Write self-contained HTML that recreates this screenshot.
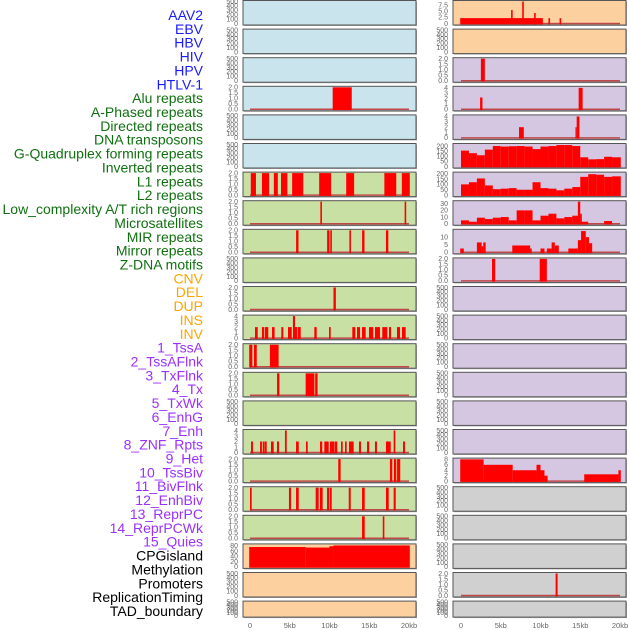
<!DOCTYPE html>
<html><head><meta charset="utf-8"><style>
html,body{margin:0;padding:0;background:#fff;}
svg{display:block;font-family:"Liberation Sans",sans-serif;}
</style></head><body>
<svg id="chart" width="630" height="630" viewBox="0 0 630 630"></svg>
<script>
// ---- data ----
const labels = ["AAV2","EBV","HBV","HIV","HPV","HTLV-1","Alu repeats","A-Phased repeats","Directed repeats","DNA transposons","G-Quadruplex forming repeats","Inverted repeats","L1 repeats","L2 repeats","Low_complexity A/T rich regions","Microsatellites","MIR repeats","Mirror repeats","Z-DNA motifs","CNV","DEL","DUP","INS","INV","1_TssA","2_TssAFlnk","3_TxFlnk","4_Tx","5_TxWk","6_EnhG","7_Enh","8_ZNF_Rpts","9_Het","10_TssBiv","11_BivFlnk","12_EnhBiv","13_ReprPC","14_ReprPCWk","15_Quies","CPGisland","Methylation","Promoters","ReplicationTiming","TAD_boundary"];
const labelColors = ["#1a1aff","#1a1aff","#1a1aff","#1a1aff","#1a1aff","#1a1aff","#107010","#107010","#107010","#107010","#107010","#107010","#107010","#107010","#107010","#107010","#107010","#107010","#107010","#ffa500","#ffa500","#ffa500","#ffa500","#ffa500","#9b30ff","#9b30ff","#9b30ff","#9b30ff","#9b30ff","#9b30ff","#9b30ff","#9b30ff","#9b30ff","#9b30ff","#9b30ff","#9b30ff","#9b30ff","#9b30ff","#9b30ff","#000","#000","#000","#000","#000"];
const xTicks = [0,5,10,15,20];
const xTickLabels = ["0","5kb","10kb","15kb","20kb"];
const leftBg = ["#c9e4ec","#c9e4ec","#c9e4ec","#c9e4ec","#c9e4ec","#c9e4ec","#c8e0a4","#c8e0a4","#c8e0a4","#c8e0a4","#c8e0a4","#c8e0a4","#c8e0a4","#c8e0a4","#c8e0a4","#c8e0a4","#c8e0a4","#c8e0a4","#c8e0a4","#fdd09f","#fdd09f","#fdd09f"];
const rightBg = ["#fdd09f","#fdd09f","#d5c6e2","#d5c6e2","#d5c6e2","#d5c6e2","#d5c6e2","#d5c6e2","#d5c6e2","#d5c6e2","#d5c6e2","#d5c6e2","#d5c6e2","#d5c6e2","#d5c6e2","#d5c6e2","#d5c6e2","#d0d0d0","#d0d0d0","#d0d0d0","#d0d0d0","#d0d0d0"];
// tick sets
const T500 = [0,100,200,300,400,500], T500L = ["0","100","200","300","400","500"];
const T2 = [0,0.5,1,1.5,2], T2L = ["0.0","0.5","1.0","1.5","2.0"];
const T4 = [0,1,2,3,4], T4L = ["0","1","2","3","4"];
const T8 = [0,2,4,6,8], T8L = ["0","2","4","6","8"];
const T75 = [0,2.5,5,7.5], T75L = ["0","2.5","5.0","7.5"];
const T200 = [0,50,100,150,200], T200L = ["0","50","100","150","200"];
const T30 = [0,10,20,30], T30L = ["0","10","20","30"];
const T10 = [0,5,10], T10L = ["0","5","10"];
const T80 = [0,20,40,60,80], T80L = ["0","20","40","60","80"];
// left series: intervals [startKb, endKb, value]
const alu_left = [[10.4,12.8,2]];
const l1_left = [[0.1,0.75,2],[1.5,2.4,2],[3.0,3.5,2],[3.9,4.7,2],[5.3,6.7,2],[8.7,10.2,2],[12.1,13.1,2],[16.9,18.4,2],[19.1,20.1,2]];
const l2_left = [[8.85,9.05,2],[19.45,19.65,2]];
const lowc_left = [[5.8,6.1,2],[9.7,10,2],[10.1,10.3,2],[12.5,12.7,2],[14.1,14.4,2],[17.1,17.4,2]];
const mir_left = [[10.5,10.8,2]];
const mirror_left = [[0.63,0.97,2],[1.5,1.76,2],[1.85,2.3,2],[2.77,3.1,2],[3.94,4.19,2],[4.78,5.25,2],[5.4,5.66,4],[5.66,5.95,2],[6.04,6.38,2],[8.09,8.39,2],[9.94,10.15,2],[12.87,13.25,2],[13.46,13.84,2],[14.09,14.55,2],[14.97,15.5,2],[15.72,16.35,2],[16.64,17.27,2],[17.48,17.74,2],[18.49,18.87,2],[19.12,19.58,2]];
const tssa_left = [[-0.1,0.3,2],[0.5,0.85,2],[2.5,3.6,2]];
const txflnk_left = [[3.4,3.7,2],[7.0,8.1,2],[8.2,8.5,2]];
const enh_left = [[0.13,0.38,2],[1.26,1.5,2],[1.6,1.85,2],[1.89,2.1,2],[2.64,2.98,2],[3.4,3.65,2],[4.4,4.62,4],[5.79,6.13,2],[7.04,7.26,2],[8.8,9.09,2],[9.35,9.9,2],[10.06,10.31,2],[10.31,10.6,2],[10.65,10.98,2],[11.45,11.66,2],[11.95,12.16,2],[12.45,13.04,2],[13.71,13.96,2],[14.72,15.0,2],[15.72,15.97,2],[17.1,17.7,2],[18.07,18.28,4],[19.25,19.5,2]];
const het_left = [[11.1,11.4,2],[17.6,17.9,2],[18.1,18.4,2],[18.5,18.9,2]];
const bivflnk_left = [[0,0.21,2],[4.9,5.16,2],[5.79,6.13,2],[8.26,8.64,2],[8.8,9.14,2],[9.69,9.94,2],[10.03,10.28,2],[12.42,12.67,2],[14.09,14.43,2],[17.1,17.45,2],[18.07,18.33,2]];
const reprpc_left = [[14.09,14.43,2],[16.7,16.9,2]];
const cpg_left = [[-0.1,7,75],[7,10,73],[10,10.5,78],[10.5,20.1,81]];
// right series
const aav2_right = [[-0.1,10.3,2.2],[6.3,6.5,5.5],[7.7,7.9,9],[9.2,9.4,4.3],[11,11.2,2.2],[12.4,12.6,2.2]];
const hpv_right = [[2.5,3.0,2]];
const alu_right = [[2.4,2.7,2.2],[14.8,15.3,4]];
const directed_right = [[7.3,7.9,2],[14.4,14.55,2],[14.55,14.9,4]];
const gquad_bins = [155,130,110,165,200,195,198,200,195,170,195,200,210,210,200,90,70,72,95,90];
const l1_bins = [100,120,155,90,55,60,65,50,50,120,65,60,45,60,75,170,195,190,170,175];
const lowc_bins = [5,3,9,7,9,10,5,20,20,5,12,15,8,10,12,3,0,0,4,0];
const lowc_peaks = [[14.7,15.0,33],[15.0,15.2,15]];
const mir_right = [[-0.1,0.35,2.5],[2.0,2.6,6.5],[2.6,2.8,4],[2.8,3.1,6.5],[6.45,8.7,4.5],[8.7,8.9,2.5],[10,10.5,2.5],[10.8,11.4,2.5],[11.4,11.8,6.5],[11.8,12.3,4.5],[13.5,14.7,2.5],[14.7,15.1,8],[15.1,15.7,14],[15.7,16.1,10],[16.1,16.5,6]];
const zdna_right = [[3.9,4.3,2],[9.9,10.8,2]];
const het_right = [[-0.1,2.85,8],[2.85,6.5,6],[6.5,9.5,4],[9.5,10,6],[10,10.5,4],[10.5,10.9,2],[15.5,19.8,2.5],[19.8,20.1,4]];
const prom_right = [[11.9,12.15,2]];

function bins2iv(b){ const out=[]; for(let i=0;i<b.length;i++){ out.push([i, i===b.length-1?20.1:i+1, b[i]]); } return out; }

// panels: [data, ticks, tickLabels, max]
const E = null;
const leftPanels = [
 [E,T500,T500L,500],[E,T500,T500L,500],[E,T500,T500L,500],[alu_left,T2,T2L,2],[E,T500,T500L,500],[E,T500,T500L,500],
 [l1_left,T2,T2L,2],[lowc_left.length?l2_left:E,T2,T2L,2],[lowc_left,T2,T2L,2],[E,T500,T500L,500],[mir_left,T2,T2L,2],
 [mirror_left,T4,T4L,4],[tssa_left,T2,T2L,2],[txflnk_left,T2,T2L,2],[E,T500,T500L,500],[enh_left,T4,T4L,4],
 [het_left,T2,T2L,2],[bivflnk_left,T2,T2L,2],[reprpc_left,T2,T2L,2],[cpg_left,T80,T80L,83],[E,T500,T500L,500],[E,T500,T500L,500]
];
const rightPanels = [
 [aav2_right,T75,T75L,9],[E,T500,T500L,500],[hpv_right,T2,T2L,2],[alu_right,T4,T4L,4.1],[directed_right,T4,T4L,4.1],
 [bins2iv(gquad_bins),T200,T200L,215],[bins2iv(l1_bins),T200,T200L,205],[bins2iv(lowc_bins).concat(lowc_peaks),T30,T30L,33],
 [mir_right,T10,T10L,14.5],[zdna_right,T2,T2L,2],[E,T500,T500L,500],[E,T500,T500L,500],[E,T500,T500L,500],[E,T500,T500L,500],
 [E,T500,T500L,500],[E,T500,T500L,500],[het_right,T8,T8L,8.1],[E,T500,T500L,500],[E,T500,T500L,500],[E,T500,T500L,500],
 [prom_right,T2,T2L,2],[E,T500,T500L,500]
];

// ---- drawing ----
const NS = "http://www.w3.org/2000/svg";
const svg = document.getElementById("chart");
function mk(tag, attrs, parent){ const e=document.createElementNS(NS,tag); for(const k in attrs) e.setAttribute(k,attrs[k]); (parent||svg).appendChild(e); return e; }

labels.forEach((t,i)=>{
  const el = mk("text",{x:203,y:15+i*13.86+5,"text-anchor":"end","font-size":"14",fill:labelColors[i]});
  el.textContent = t;
  
  
});

const PX = 7.95;
function drawPanel(p, r, x0, zeroX, bg, side){
  const top = 0.5 + r*28.6, h = (r===21)?16:24.5;
  const [data, ticks, tl, max] = p;
  const g = mk("g",{});
  
  
  const w = 173;
  mk("rect",{x:x0+1,y:top+1,width:w,height:h,fill:"#aaa"},g);
  const bgr = mk("rect",{x:x0,y:top,width:w,height:h,fill:bg,stroke:"#555","stroke-width":1},g);
  
  
  const xs = kb => zeroX + kb*PX;
  const ys = v => top + h - 1.5 - (v/max)*(h-2.5);
  ticks.forEach((t,i)=>{
    const tx = mk("text",{x:x0-5,y:ys(t)+2.3,"text-anchor":"end","font-size":"7",fill:"#666"},g);
    tx.textContent = tl[i];
    
    
  });
  if(data){
    const bl = mk("line",{x1:xs(0),x2:xs(20),y1:ys(0),y2:ys(0),stroke:"#c04848","stroke-width":1.5},g);
    
    
    data.forEach(d=>{
      const [s,e,v] = d;
      if(v<=0) return;
      const y1 = Math.max(ys(v), top+0.5);
      const b = mk("rect",{x:xs(s),y:y1,width:Math.max(xs(e)-xs(s),1.2),height:ys(0)-y1+0.8,fill:"#ff0000"},g);
      
      
    });
  }
}
for(let r=0;r<22;r++){
  drawPanel(leftPanels[r], r, 243, 250, leftBg[r], 'left');
  drawPanel(rightPanels[r], r, 453, 461, rightBg[r], 'right');
}
[250,461].forEach((z,j)=>{
  xTicks.forEach((t,i)=>{
    const tx = mk("text",{x:z+t*PX,y:628,"text-anchor":"middle","font-size":"7.5",fill:"#666"});
    tx.textContent = xTickLabels[i];
    
    
  });
});
</script>
</body></html>
